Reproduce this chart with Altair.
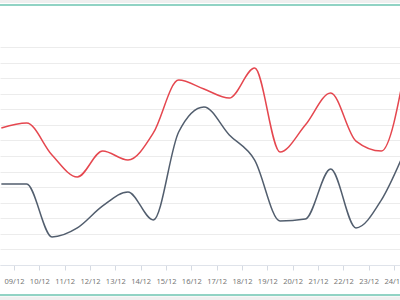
import altair as alt
import pandas as pd

days = [8.5, 9.5, 10.5, 11.5, 12.5, 13.5, 14.5, 15.5, 16.5, 17.5, 18.5, 19.5, 20.5, 21.5, 22.5, 23.5, 24.5]
red_vals = [88.0, 91.2, 70.6, 56.5, 73.2, 67.4, 84.8, 118.8, 113.0, 107.2, 126.5, 72.6, 89.9, 110.5, 79.6, 73.2, 131.6]
gray_vals = [52.0, 52.0, 18.0, 23.8, 37.9, 46.9, 28.9, 85.4, 101.5, 83.5, 67.4, 28.3, 29.5, 61.7, 23.8, 41.7, 76.0]
tick_days = list(range(9, 25))

rows = []
for d, v in zip(days, red_vals):
    rows.append({"day": d, "value": v, "series": "A"})
for d, v in zip(days, gray_vals):
    rows.append({"day": d, "value": v, "series": "B"})
df = pd.DataFrame(rows)

x_axis = alt.Axis(
    values=tick_days,
    labelExpr="(datum.value < 10 ? '0' : '') + datum.value + '/12'",
    grid=False,
    domainColor="#dfe3ea",
    tickColor="#d5dae2",
    tickSize=5,
    labelPadding=7,
    labelFontSize=7.5,
    labelColor="#777777",
    labelFont="Noto Sans",
    labelOverlap=False,
    title=None,
)
y_axis = alt.Axis(
    values=list(range(0, 150, 10)),
    labels=False,
    ticks=False,
    domain=False,
    gridColor="#ececec",
    title=None,
)

lines = alt.Chart(df).mark_line(interpolate="monotone", strokeWidth=1.5, clip=True).encode(
    x=alt.X("day:Q", scale=alt.Scale(domain=[8.447, 24.238], nice=False, zero=False), axis=x_axis),
    y=alt.Y("value:Q", scale=alt.Scale(domain=[0, 140], nice=False), axis=y_axis),
    color=alt.Color("series:N", scale=alt.Scale(domain=["A", "B"], range=["#e5474f", "#525e6e"]), legend=None),
)

one = alt.Data(values=[{"k": 1}])
top_band = alt.Chart(one).mark_rect(color="#efefef", clip=False).encode(
    x=alt.value(0), x2=alt.value(400), y=alt.value(-47), y2=alt.value(-44)
)
top_line = alt.Chart(one).mark_rule(color="#6cc5b0", strokeWidth=1.5, clip=False).encode(
    x=alt.value(0), x2=alt.value(400), y=alt.value(-42)
)
bottom_line = alt.Chart(one).mark_rule(color="#6cc5b0", strokeWidth=1.5, clip=False).encode(
    x=alt.value(0), x2=alt.value(400), y=alt.value(248)
)
bottom_band = alt.Chart(one).mark_rect(color="#efefef", clip=False).encode(
    x=alt.value(0), x2=alt.value(400), y=alt.value(249.5), y2=alt.value(253)
)

chart = alt.layer(lines, top_band, top_line, bottom_line, bottom_band).properties(
    width=400,
    height=218,
    padding={"top": 47, "bottom": 35, "left": 0, "right": 0},
    autosize=alt.AutoSizeParams(type="none"),
    background="white",
).configure_view(stroke=None)

chart.save("out.html", embed_options={"renderer": "svg", "actions": False})
